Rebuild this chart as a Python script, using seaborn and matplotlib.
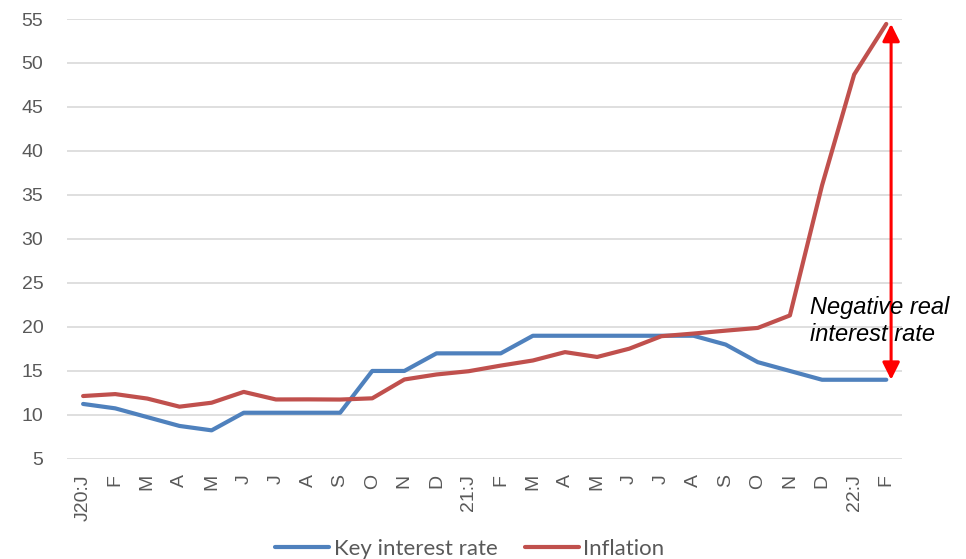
import matplotlib
matplotlib.use("Agg")
import matplotlib.pyplot as plt
import seaborn as sns
import pandas as pd
import numpy as np
from matplotlib.lines import Line2D

months = ["J20:J", "F", "M", "A", "M", "J", "J", "A", "S", "O", "N", "D",
          "21:J", "F", "M", "A", "M", "J", "J", "A", "S", "O", "N", "D",
          "22:J", "F"]
key_rate = [11.25, 10.75, 9.75, 8.75, 8.25, 10.25, 10.25, 10.25, 10.25, 15, 15, 17,
            17, 17, 19, 19, 19, 19, 19, 19, 18, 16, 15, 14, 14, 14]
inflation = [12.15, 12.37, 11.86, 10.94, 11.39, 12.62, 11.76, 11.77, 11.75, 11.89, 14.03, 14.60,
             14.97, 15.61, 16.19, 17.14, 16.59, 17.53, 18.95, 19.25, 19.58, 19.89, 21.31, 36.08,
             48.69, 54.44]
yticks = [5, 10, 15, 20, 25, 30, 35, 40, 45, 50, 55]

sns.set_theme(style="white")
plt.rcParams['font.family'] = ['Liberation Sans', 'DejaVu Sans']

idx = np.arange(len(months))
df = pd.DataFrame({
    "x": np.concatenate([idx, idx]),
    "value": key_rate + inflation,
    "series": ["Key interest rate"] * len(idx) + ["Inflation"] * len(idx),
})

fig = plt.figure(figsize=(9.66, 5.59), dpi=100)
ax = fig.add_axes([0.0694, 0.179, 0.8647, 0.787])

sns.lineplot(data=df, x="x", y="value", hue="series",
             palette={"Key interest rate": "#4F81BD", "Inflation": "#C0504D"},
             linewidth=3, ax=ax, legend=False)

ax.set_xlim(-0.5, len(months) - 0.5)
ax.set_ylim(5, 55)
ax.set_yticks(yticks)
ax.set_yticklabels([str(v) for v in yticks], fontsize=14, color="#595959")
ax.set_xticks(idx)
ax.set_xticklabels(months, rotation=90, fontsize=14, color="#595959")
ax.tick_params(axis="y", length=0, pad=17)
ax.tick_params(axis="x", length=0, pad=11)
ax.grid(axis="y", color="#D9D9D9", linewidth=1.2)
ax.set_axisbelow(True)
for s in ax.spines.values():
    s.set_visible(False)
ax.set_xlabel("")
ax.set_ylabel("")

# arrow showing negative real rate
xa = len(months) - 1 + 0.15
ax.annotate("", xy=(xa, inflation[-1]), xytext=(xa, key_rate[-1]),
            arrowprops=dict(arrowstyle="<|-|>", color="#FF0000", lw=2.2,
                            mutation_scale=26, shrinkA=0, shrinkB=0))
ax.text(22.63, 20.7, "Negative real\ninterest rate", fontsize=17, style="italic",
        color="black", ha="left", va="center", linespacing=1.2)

handles = [Line2D([], [], color="#4F81BD", lw=3), Line2D([], [], color="#C0504D", lw=3)]
fig.legend(handles, ["Key interest rate", "Inflation"], loc="lower center",
           bbox_to_anchor=(0.4865, -0.035), ncol=2, frameon=False,
           prop={"family": "Lato", "size": 16}, handlelength=2.43,
           columnspacing=1.2, handletextpad=0.22, labelcolor="#595959")

fig.savefig("out.png", dpi=100)
